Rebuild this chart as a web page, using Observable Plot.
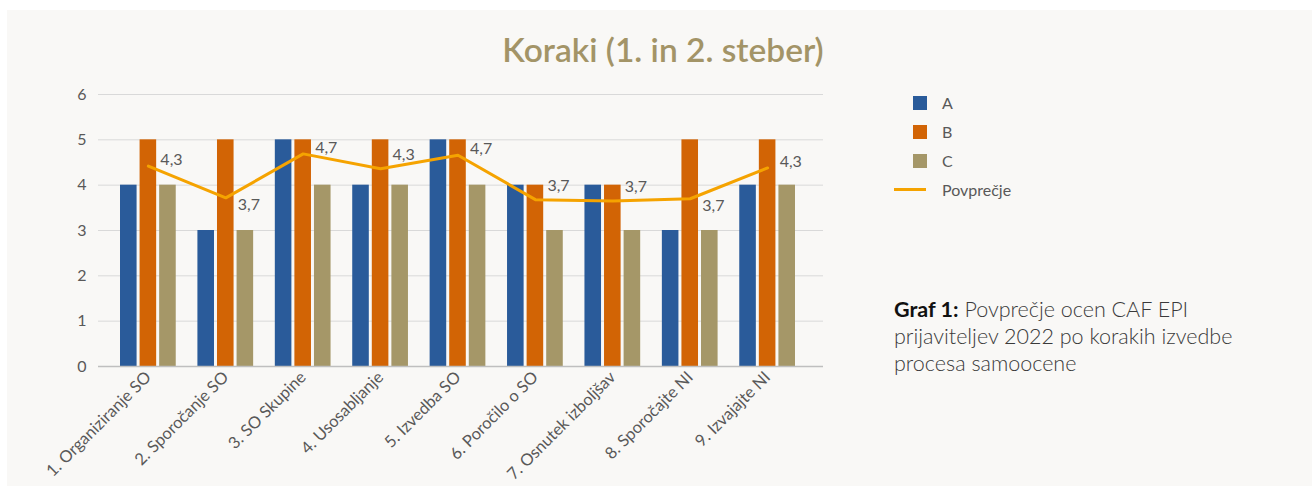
<!DOCTYPE html>
<html>
<head>
<meta charset="utf-8">
<script src="https://cdn.jsdelivr.net/npm/d3@7"></script>
<script src="https://cdn.jsdelivr.net/npm/@observablehq/plot@0.6"></script>
<style>
  html, body { margin: 0; padding: 0; background: #ffffff; width: 1312px; height: 486px; overflow: hidden; }
  #panel { position: absolute; left: 7px; top: 10px; width: 1305px; height: 476px; background: #f9f8f6; }
  #chart { position: absolute; left: 0; top: 0; }
  #title { position: absolute; left: 463px; width: 400px; top: 29px; text-align: center;
           font-family: Lato, sans-serif; font-weight: 600; font-size: 33.5px; color: #a39467; white-space: nowrap; }
  .leg { position: absolute; font-family: Lato, sans-serif; font-size: 16px; color: #595959; }
  .sw { position: absolute; width: 14px; height: 14px; }
  #caption { position: absolute; left: 894px; top: 296px; width: 380px; font-family: Lato, sans-serif;
             font-size: 21.5px; line-height: 27px; color: #3a3a3a; font-weight: 300; }
  #caption b { color: #111; font-weight: 700; }
</style>
</head>
<body>
<div id="panel"></div>
<div id="chart"></div>
<div id="title">Koraki (1. in 2. steber)</div>
<div id="legend"></div>
<div id="caption"><b>Graf 1:</b> Povprečje ocen CAF EPI prijaviteljev 2022 po korakih izvedbe procesa samoocene</div>
<script>
// ---- data ----
const categories = ["1. Organiziranje SO", "2. Sporočanje SO", "3. SO Skupine", "4. Usosabljanje", "5. Izvedba SO",
                    "6. Poročilo o SO", "7. Osnutek izboljšav", "8. Sporočajte NI", "9. Izvajajte NI"];
const seriesA = [4, 3, 5, 4, 5, 4, 4, 3, 4];
const seriesB = [5, 5, 5, 5, 5, 4, 4, 5, 5];
const seriesC = [4, 3, 4, 4, 4, 3, 3, 3, 4];
const average = [4.42, 3.72, 4.69, 4.36, 4.66, 3.68, 3.65, 3.70, 4.38];
const averageLabels = ["4,3", "3,7", "4,7", "4,3", "4,7", "3,7", "3,7", "3,7", "4,3"];
const seriesNames = ["A", "B", "C", "Povprečje"];
const yTicks = [0, 1, 2, 3, 4, 5, 6];

// ---- styles ----
const colors = {A: "#2a5b9a", B: "#d26405", C: "#a59768", avg: "#f5a300"};
const W = 840, H = 486, mL = 98, mR = 17, mT = 94, mB = 120;
const padIn = 0.28, padOut = 0.323, align = 0.44;
const inner = W - mL - mR;
const step = inner / (categories.length - padIn + 2 * padOut);
const bw = step * (1 - padIn);
const gap = 3;
const barW = (bw - 2 * gap) / 3;

const rows = (vals) => categories.map((c, i) => ({cat: c, v: vals[i], i}));
const avgRows = categories.map((c, i) => ({cat: c, v: average[i], label: averageLabels[i], i}));
const below = new Set([1, 7]);
const higher = new Set([3, 5, 6]);

const font = "Lato, sans-serif";
const plot = Plot.plot({
  width: W, height: H,
  marginLeft: mL, marginRight: mR, marginTop: mT, marginBottom: mB,
  style: {background: "transparent", fontFamily: font, fontSize: "16px", color: "#595959", overflow: "visible"},
  x: {domain: categories, paddingInner: padIn, paddingOuter: padOut, align, round: false, label: null},
  y: {domain: [0, 6], ticks: yTicks, label: null},
  marks: [
    Plot.gridY(yTicks.filter(t => t > 0), {stroke: "#d9d9d9", strokeOpacity: 1, strokeWidth: 1}),
    Plot.barY(rows(seriesA), {x: "cat", y: "v", fill: colors.A, insetRight: bw - barW}),
    Plot.barY(rows(seriesB), {x: "cat", y: "v", fill: colors.B, insetLeft: barW + gap, insetRight: barW + gap}),
    Plot.barY(rows(seriesC), {x: "cat", y: "v", fill: colors.C, insetLeft: bw - barW}),
    Plot.ruleY([0], {stroke: "#bfbfbf", strokeWidth: 1.5}),
    Plot.line(avgRows, {x: "cat", y: "v", stroke: colors.avg, strokeWidth: 3, strokeLinejoin: "round"}),
    Plot.text(avgRows.filter(d => !below.has(d.i) && !higher.has(d.i)), {x: "cat", y: "v", text: "label", dx: 12, dy: -6,
      textAnchor: "start", fill: "#595959", fontSize: 16}),
    Plot.text(avgRows.filter(d => higher.has(d.i)), {x: "cat", y: "v", text: "label", dx: 12, dy: -14,
      textAnchor: "start", fill: "#595959", fontSize: 16}),
    Plot.text(avgRows.filter(d => below.has(d.i)), {x: "cat", y: "v", text: "label", dx: 12, dy: 7,
      textAnchor: "start", fill: "#595959", fontSize: 16}),
    Plot.axisY({ticks: yTicks, tickFormat: d3.format("d"), tickSize: 0, tickPadding: 12, fontSize: 16, fill: "#595959"}),
    Plot.axisX({tickSize: 0, tickPadding: 8, tickRotate: -45, fontSize: 16.5, fill: "#595959"})
  ]
});
document.getElementById("chart").appendChild(plot);

// ---- legend ----
const legend = document.getElementById("legend");
const legItems = [
  {name: seriesNames[0], color: colors.A, type: "sq", y: 96},
  {name: seriesNames[1], color: colors.B, type: "sq", y: 125},
  {name: seriesNames[2], color: colors.C, type: "sq", y: 154},
  {name: seriesNames[3], color: colors.avg, type: "line", y: 183}
];
legItems.forEach(it => {
  const sw = document.createElement("div");
  if (it.type === "sq") {
    sw.className = "sw";
    sw.style.left = "913px"; sw.style.top = it.y + "px"; sw.style.background = it.color;
  } else {
    sw.style.position = "absolute"; sw.style.left = "894px"; sw.style.top = (it.y + 5) + "px";
    sw.style.width = "32px"; sw.style.height = "3px"; sw.style.background = it.color;
  }
  legend.appendChild(sw);
  const t = document.createElement("div");
  t.className = "leg"; t.textContent = it.name;
  t.style.left = "942px"; t.style.top = (it.y - 3) + "px";
  legend.appendChild(t);
});
</script>
</body>
</html>
